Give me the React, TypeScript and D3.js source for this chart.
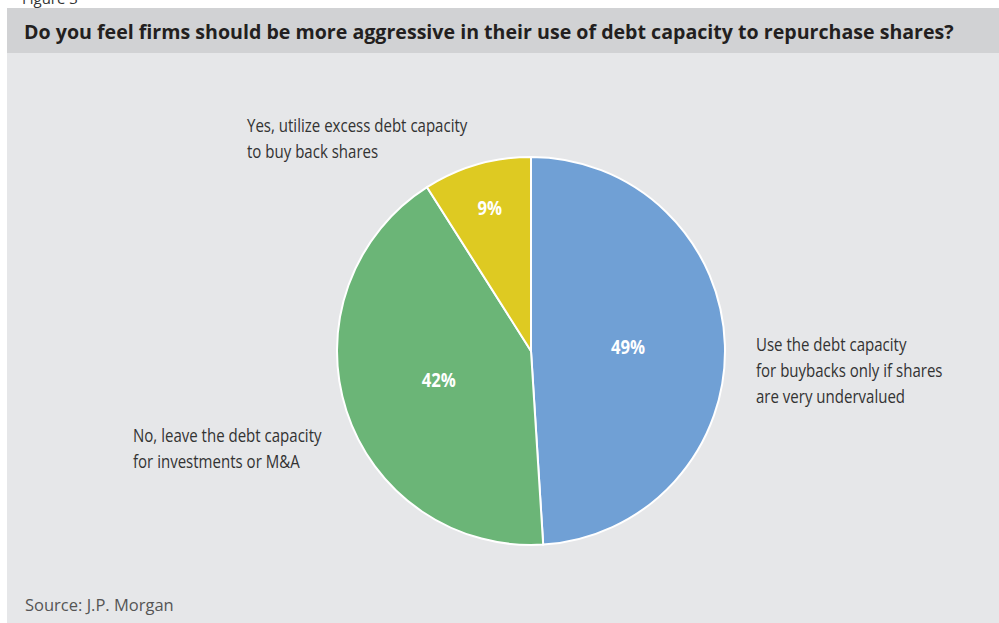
import React from "react";
import * as d3 from "d3";

const categories = [
  "Use the debt capacity for buybacks only if shares are very undervalued",
  "No, leave the debt capacity for investments or M&A",
  "Yes, utilize excess debt capacity to buy back shares",
];
const values = [49, 42, 9];
const labelLines = [
  ["Use the debt capacity", "for buybacks only if shares", "are very undervalued"],
  ["No, leave the debt capacity", "for investments or M&A"],
  ["Yes, utilize excess debt capacity", "to buy back shares"],
];
const colors = ["#70A0D5", "#6BB577", "#DECA22"];
const title = "Do you feel firms should be more aggressive in their use of debt capacity to repurchase shares?";
const source = "Source: J.P. Morgan";

const W = 999;
const H = 623;
const cx = 531;
const cy = 351;
const R = 194;
const font = "'Open Sans', sans-serif";
const SX = 0.835;

// anchor positions for category labels (left x, first baseline)
const catPos = [
  { x: 756, y: 351 },
  { x: 133, y: 442 },
  { x: 247, y: 132 },
];

export default function App() {
  const pie = d3.pie<number>().sort(null).value((d) => d)(values);
  const arc = d3.arc<d3.PieArcDatum<number>>().innerRadius(0).outerRadius(R);
  return (
    <svg
      width={W}
      height={H}
      style={{ position: "absolute", left: 0, top: 0, display: "block" }}
    >
      <rect x={0} y={0} width={W} height={H} fill="#ffffff" />
      <text x={22} y={4} fontSize={15} fill="#333" fontFamily={font}>Figure 3</text>
      <rect x={7} y={8} width={W - 7} height={45} fill="#D1D2D4" />
      <rect x={7} y={53} width={W - 7} height={H - 53} fill="#E6E7E9" />
      <g transform="translate(24,39) scale(0.98,1)">
        <text x={0} y={0} fontSize={20} fontWeight="bold" fill="#231F20" fontFamily={font}>
          {title}
        </text>
      </g>
      <g transform={`translate(${cx},${cy})`}>
        {pie.map((d, i) => (
          <path key={i} d={arc(d) || ""} fill={colors[i]} stroke="#ffffff" strokeWidth={2} />
        ))}
        {pie.map((d, i) => {
          const small = d.endAngle - d.startAngle < 0.8;
          const lr = small ? R * 0.76 : R * 0.5;
          const c = d3.arc<d3.PieArcDatum<number>>().innerRadius(lr).outerRadius(lr).centroid(d);
          return (
            <text
              key={"p" + i}
              transform={`translate(${c[0]},${c[1] + 6}) scale(${SX},1)`}
              textAnchor="middle"
              fontSize={20}
              fontWeight="bold"
              fill="#ffffff"
              fontFamily={font}
            >
              {values[i]}%
            </text>
          );
        })}
      </g>
      {labelLines.map((lines, i) => (
        <g key={"c" + i} transform={`translate(${catPos[i].x},${catPos[i].y}) scale(${SX},1)`}>
          <text fontSize={18} fill="#333333" fontFamily={font}>
            {lines.map((ln, j) => (
              <tspan key={j} x={0} y={j * 26}>
                {ln}
              </tspan>
            ))}
          </text>
        </g>
      ))}
      <text x={25} y={611} fontSize={16.5} fill="#555555" fontFamily={font}>
        {source}
      </text>
    </svg>
  );
}
